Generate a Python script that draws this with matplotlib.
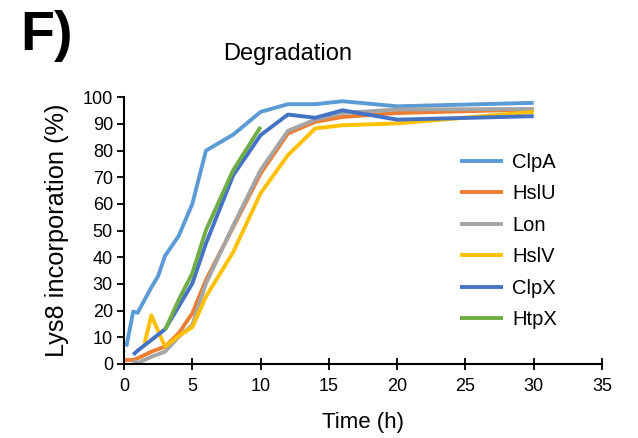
import matplotlib
matplotlib.use("Agg")
from matplotlib import pyplot as plt

plt.rcParams['font.family'] = ['Liberation Sans', 'DejaVu Sans']

# time points (h) and Lys8 incorporation (%)
clpa_t = [0.17, 0.67, 1, 1.5, 2, 2.5, 3, 4, 5, 6, 8, 10, 12, 14, 16, 20, 30]
clpa_y = [6.5, 19.6, 19.2, 24, 28.7, 33, 40.5, 48, 60, 80, 86, 94.5, 97.4, 97.4, 98.5, 96.6, 97.9]

hslu_t = [0, 0.67, 1, 2, 3, 4, 5, 6, 8, 10, 12, 14, 16, 20, 30]
hslu_y = [1.5, 1.5, 2.1, 4.6, 6.5, 11.5, 19, 31.5, 51.4, 71.4, 86.4, 90.8, 92.6, 94.1, 95.4]

lon_t = [0.67, 1, 2, 3, 4, 5, 6, 8, 10, 12, 14, 16, 20, 30]
lon_y = [1.2, 0.3, 2.7, 4.6, 10.2, 14.6, 30.2, 52, 72.7, 87.4, 91.6, 94.1, 95.4, 95.6]

hslv_t = [1.5, 2, 3, 4, 5, 6, 8, 10, 12, 14, 16, 20, 30]
hslv_y = [7.7, 18.2, 6.5, 10.5, 13.8, 25.2, 42, 64, 78.3, 88.3, 89.5, 90.2, 94.5]

clpx_t = [0.67, 1, 2, 3, 4, 5, 6, 8, 10, 12, 14, 16, 20, 30]
clpx_y = [3.5, 5, 9, 13, 21.5, 30.2, 45.2, 70.8, 85.8, 93.5, 92.3, 95.1, 91.6, 92.9]

htpx_t = [3, 4, 5, 6, 8, 10]
htpx_y = [12.7, 24, 34, 50.2, 72.7, 88.9]

series = [
    ("ClpA", clpa_t, clpa_y, "#5B9BD5"),
    ("HslU", hslu_t, hslu_y, "#ED7D31"),
    ("Lon", lon_t, lon_y, "#A5A5A5"),
    ("HslV", hslv_t, hslv_y, "#FFC000"),
    ("ClpX", clpx_t, clpx_y, "#4472C4"),
    ("HtpX", htpx_t, htpx_y, "#70AD47"),
]

fig = plt.figure(figsize=(6.38, 4.38), dpi=100)
ax = fig.add_axes([0.1944, 0.169, 0.7492, 0.609])

for name, t, y, c in series:
    ax.plot(t, y, color=c, lw=2.8, label=name, solid_capstyle='butt')

ax.set_xlim(0, 35)
ax.set_ylim(0, 100)
ax.set_xticks(range(0, 36, 5))
ax.set_yticks(range(0, 101, 10))
ax.tick_params(labelsize=13, width=1.3, length=5, direction='out', pad=3)
ax.tick_params(axis='x', direction='inout', length=8, pad=6)
for s in ['top', 'right']:
    ax.spines[s].set_visible(False)
for s in ['left', 'bottom']:
    ax.spines[s].set_linewidth(1.5)

ax.set_xlabel('Time (h)', fontsize=16, labelpad=12)
ax.set_ylabel('Lys8 incorporation (%)', fontsize=18.3, labelpad=10)

fig.text(288 / 638, 1 - 54 / 438, 'Degradation', fontsize=17, ha='center', va='center')
fig.text(20 / 638, 1 - 36 / 438, 'F)', fontsize=40, fontweight='bold', ha='left', va='center')

ax.legend(loc='upper left', bbox_to_anchor=(460 / 638, 1 - 153 / 438),
          bbox_transform=fig.transFigure, frameon=False, fontsize=14.5,
          handlelength=2.15, handletextpad=0.45, labelspacing=0.62,
          borderpad=0, borderaxespad=0)

fig.savefig('out.png', dpi=100)
